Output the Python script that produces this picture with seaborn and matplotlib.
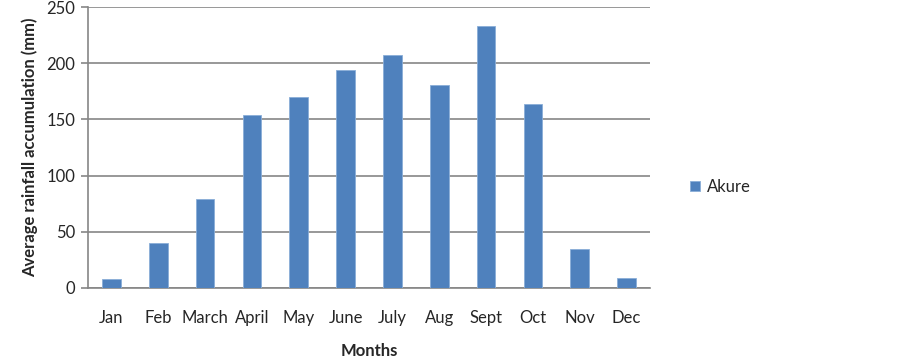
import seaborn as sns
import matplotlib.pyplot as plt
import pandas as pd

months = ["Jan", "Feb", "March", "April", "May", "June", "July", "Aug", "Sept", "Oct", "Nov", "Dec"]
rainfall = [8, 40, 79, 154, 170, 194, 207, 181, 233, 164, 35, 9]
series = "Akure"

sns.set_style("white")
plt.rcParams['font.family'] = ['Lato', 'DejaVu Sans']

df = pd.DataFrame({"Months": months, "Rainfall": rainfall, "Station": series})

fig = plt.figure(figsize=(9.02, 3.63), dpi=100)
ax = fig.add_axes([88 / 902, 1 - 288 / 363, 562 / 902, 281 / 363])

sns.barplot(data=df, x="Months", y="Rainfall", hue="Station", palette=["#4F81BD"],
            saturation=1, width=0.4, ax=ax, edgecolor="#8AAED8", linewidth=0.6, zorder=3)

ax.set_ylim(0, 250)
ax.set_xlim(-0.5, len(months) - 0.5)
ax.set_yticks(range(0, 251, 50))
ax.yaxis.grid(True, color="#868686", linewidth=1.2, zorder=0)
ax.set_axisbelow(True)

for side in ["top", "right"]:
    ax.spines[side].set_visible(False)
for side in ["left", "bottom"]:
    ax.spines[side].set_color("#868686")
    ax.spines[side].set_linewidth(1.2)

# category ticks sit between the bars
ax.set_xticks([i - 0.5 for i in range(len(months) + 1)], minor=True)
ax.tick_params(axis="x", which="minor", length=6, color="#868686", width=1.2, direction="out")
ax.tick_params(axis="x", which="major", length=0, labelsize=12, pad=16)
ax.tick_params(axis="y", length=5, color="#868686", width=1.2, labelsize=12, left=True, pad=4)

ax.set_xlabel("Months", fontsize=12, fontweight="bold", labelpad=12)
ax.set_ylabel("Average rainfall accumulation (mm)", fontsize=12, fontweight="bold", labelpad=6)

leg = ax.legend(loc="center left", bbox_to_anchor=(1.045, 0.36), frameon=False,
                fontsize=12, handlelength=0.6, handleheight=0.6, handletextpad=0.4)

fig.savefig("out.png", dpi=100)
